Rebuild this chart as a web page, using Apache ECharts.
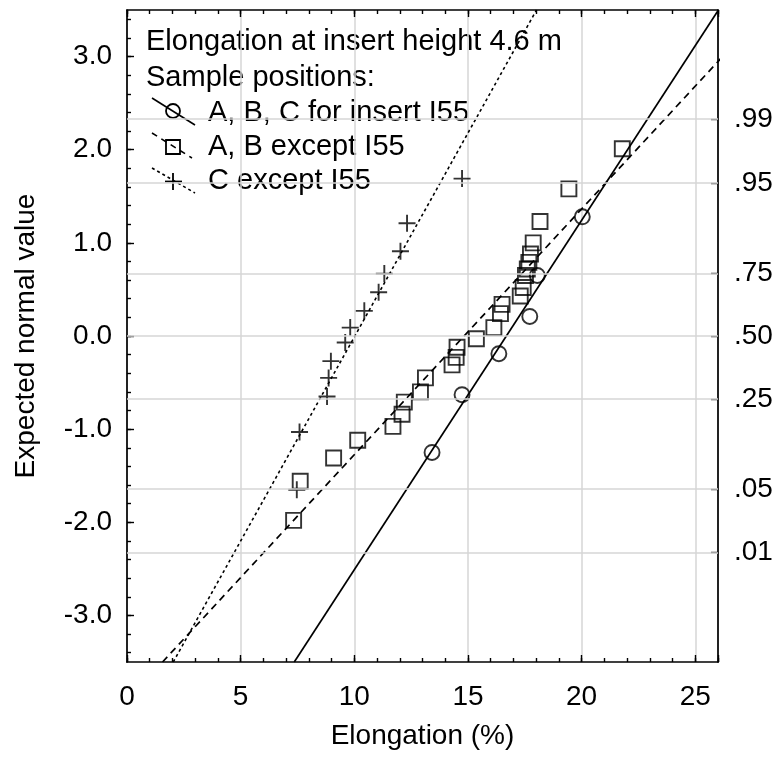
<!DOCTYPE html>
<html><head><meta charset="utf-8">
<script src="https://cdn.jsdelivr.net/npm/echarts@6/dist/echarts.min.js"></script>
<style>html,body{margin:0;padding:0;background:#fff}#c{width:779px;height:762px}</style>
</head><body><div id="c"></div>
<script>
// ---- data ----
const circleX = [13.42, 14.74, 16.36, 17.72, 18.05, 20.03];
const circleY = [-1.25, -0.63, -0.19, 0.21, 0.65, 1.28];

const squareX = [7.33, 7.62, 9.09, 10.15, 11.70, 12.10, 12.20, 12.91, 13.13, 14.30, 14.48, 14.52, 15.37,
                 16.14, 16.43, 16.50, 17.30, 17.43, 17.53, 17.61, 17.68, 17.75, 17.87, 18.17, 19.44, 21.79];
const squareY = [-1.98, -1.56, -1.31, -1.12, -0.97, -0.84, -0.71, -0.60, -0.45, -0.31, -0.23, -0.12, -0.03,
                 0.09, 0.24, 0.34, 0.43, 0.52, 0.65, 0.72, 0.79, 0.88, 1.00, 1.23, 1.58, 2.01];

const crossX = [7.47, 7.59, 8.80, 8.87, 8.97, 9.60, 9.82, 10.44, 11.07, 11.32, 12.03, 12.32, 14.74];
const crossY = [-1.65, -1.03, -0.65, -0.45, -0.27, -0.07, 0.09, 0.27, 0.47, 0.67, 0.91, 1.21, 1.69];

const seriesNames = ['A, B, C for insert I55', 'A, B except I55', 'C except I55'];
const titleLines = ['Elongation at insert height 4.6 m', 'Sample positions:'];

const xTickLabels = [0, 5, 10, 15, 20, 25];
const yTickLabels = [-3, -2, -1, 0, 1, 2, 3];
const probTicks = [0.01, 0.05, 0.25, 0.50, 0.75, 0.95, 0.99];
const probLabels = ['.01', '.05', '.25', '.50', '.75', '.95', '.99'];

const X_MIN = 0, X_MAX = 26, Y_MIN = -3.5, Y_MAX = 3.5;

// ---- helpers ----
function invNorm(p){
  const a=[-3.969683028665376e+01,2.209460984245205e+02,-2.759285104469687e+02,1.383577518672690e+02,-3.066479806614716e+01,2.506628277459239e+00];
  const b=[-5.447609879822406e+01,1.615858368580409e+02,-1.556989798598866e+02,6.680131188771972e+01,-1.328068155288572e+01];
  const c=[-7.784894002430293e-03,-3.223964580411365e-01,-2.400758277161838e+00,-2.549732539343734e+00,4.374664141464968e+00,2.938163982698783e+00];
  const d=[7.784695709041462e-03,3.224671290700398e-01,2.445134137142996e+00,3.754408661907416e+00];
  const pl=0.02425, ph=1-pl; let q,r;
  if(p<pl){q=Math.sqrt(-2*Math.log(p));return (((((c[0]*q+c[1])*q+c[2])*q+c[3])*q+c[4])*q+c[5])/((((d[0]*q+d[1])*q+d[2])*q+d[3])*q+1);}
  if(p<=ph){q=p-0.5;r=q*q;return (((((a[0]*r+a[1])*r+a[2])*r+a[3])*r+a[4])*r+a[5])*q/(((((b[0]*r+b[1])*r+b[2])*r+b[3])*r+b[4])*r+1);}
  q=Math.sqrt(-2*Math.log(1-p));return -(((((c[0]*q+c[1])*q+c[2])*q+c[3])*q+c[4])*q+c[5])/((((d[0]*q+d[1])*q+d[2])*q+d[3])*q+1);
}
function fitLine(xs, ys){
  const n = xs.length;
  const mx = xs.reduce((s,v)=>s+v,0)/n, my = ys.reduce((s,v)=>s+v,0)/n;
  let sxy=0, sxx=0;
  for(let i=0;i<n;i++){ sxy += (xs[i]-mx)*(ys[i]-my); sxx += (xs[i]-mx)*(xs[i]-mx); }
  const s = sxy/sxx;
  return [[mx + (Y_MIN-my)/s, Y_MIN], [mx + (Y_MAX-my)/s, Y_MAX]];
}
const zip = (xs, ys) => xs.map((x,i)=>[x, ys[i]]);
const range = (a, b, step) => { const r=[]; for(let v=a; v<=b+1e-9; v+=step) r.push(Math.round(v*10)/10); return r; };

const probZ = probTicks.map(invNorm);
const xMinor = range(X_MIN, X_MAX, 1);
const yMinor = range(-3.4, 3.4, 0.2);

const FONT = '"Liberation Sans", Arial, sans-serif';
const FS = 28;
const LFS = 29;
const BLACK = '#000';
const GRID = '#d6d6d6';

const chart = echarts.init(document.getElementById('c'), null, {renderer:'canvas'});

const baseAxisLine = {show:true, onZero:false, lineStyle:{color:BLACK, width:1.7}};
const noLine = {show:false, onZero:false};

const option = {
  animation:false,
  backgroundColor:'#fff',
  grid:{left:127, right:61, top:10, bottom:100, containLabel:false},
  xAxis:[
    {type:'value', position:'bottom', min:X_MIN, max:X_MAX, interval:5,
     axisLine:baseAxisLine,
     axisTick:{show:true, inside:true, length:7, lineStyle:{color:BLACK, width:1.4}},
     axisLabel:{margin:21, color:BLACK, fontSize:FS, fontFamily:FONT, customValues:xTickLabels},
     splitLine:{show:true, lineStyle:{color:GRID, width:1.5}},
     name:'Elongation (%)', nameLocation:'middle', nameGap:60,
     nameTextStyle:{color:BLACK, fontSize:FS, fontFamily:FONT}},
    {type:'value', position:'bottom', min:X_MIN, max:X_MAX,
     axisLine:noLine,
     axisTick:{show:true, inside:true, length:4, customValues:xMinor, lineStyle:{color:BLACK, width:1.4}},
     axisLabel:{show:false}, splitLine:{show:false}},
    {type:'value', position:'top', min:X_MIN, max:X_MAX, interval:5,
     axisLine:baseAxisLine,
     axisTick:{show:true, inside:true, length:7, lineStyle:{color:BLACK, width:1.4}},
     axisLabel:{show:false}, splitLine:{show:false}},
    {type:'value', position:'top', min:X_MIN, max:X_MAX,
     axisLine:noLine,
     axisTick:{show:true, inside:true, length:4, customValues:xMinor, lineStyle:{color:BLACK, width:1.4}},
     axisLabel:{show:false}, splitLine:{show:false}}
  ],
  yAxis:[
    {type:'value', position:'left', min:Y_MIN, max:Y_MAX,
     axisLine:baseAxisLine,
     axisTick:{show:true, inside:true, length:7, customValues:yTickLabels, lineStyle:{color:BLACK, width:1.4}},
     axisLabel:{margin:15, color:BLACK, fontSize:FS, fontFamily:FONT, customValues:yTickLabels,
                formatter:v=>Number(v).toFixed(1)},
     splitLine:{show:false},
     name:'Expected normal value', nameLocation:'middle', nameGap:87,
     nameTextStyle:{color:BLACK, fontSize:FS, fontFamily:FONT}},
    {type:'value', position:'left', min:Y_MIN, max:Y_MAX,
     axisLine:noLine,
     axisTick:{show:true, inside:true, length:4, customValues:yMinor, lineStyle:{color:BLACK, width:1.4}},
     axisLabel:{show:false}, splitLine:{show:false}},
    {type:'value', position:'right', min:Y_MIN, max:Y_MAX,
     axisLine:baseAxisLine,
     axisTick:{show:true, inside:true, length:7, customValues:probZ, lineStyle:{color:BLACK, width:1.4}},
     axisLabel:{margin:16, color:BLACK, fontSize:FS, fontFamily:FONT, customValues:probZ,
                formatter:v=>{ let bi=0, bd=1e9; probZ.forEach((z,i)=>{const dd=Math.abs(z-v); if(dd<bd){bd=dd;bi=i;}}); return probLabels[bi]; }},
     splitLine:{show:false}}
  ],
  series:[
    {type:'scatter', name:'grid', data:[], z:1, silent:true,
     markLine:{silent:true, symbol:['none','none'], label:{show:false}, animation:false,
       lineStyle:{color:GRID, width:1.5, type:'solid'},
       emphasis:{disabled:true},
       data:probZ.map(z=>({yAxis:z}))}},
    {type:'line', name:seriesNames[0]+' fit', data:fitLine(circleX, circleY), showSymbol:false, clip:true, z:3,
     lineStyle:{color:BLACK, width:1.7, type:'solid'}},
    {type:'line', name:seriesNames[1]+' fit', data:fitLine(squareX, squareY), showSymbol:false, clip:true, z:3,
     lineStyle:{color:BLACK, width:1.7, type:[7,5]}},
    {type:'line', name:seriesNames[2]+' fit', data:fitLine(crossX, crossY), showSymbol:false, clip:true, z:3,
     lineStyle:{color:BLACK, width:1.6, type:[3,3]}},
    {type:'scatter', name:seriesNames[0], data:zip(circleX, circleY), symbol:'circle', symbolSize:15, z:4,
     itemStyle:{color:'rgba(0,0,0,0)', borderColor:BLACK, borderWidth:1.9}},
    {type:'scatter', name:seriesNames[1], data:zip(squareX, squareY), symbol:'rect', symbolSize:15, z:4,
     itemStyle:{color:'rgba(0,0,0,0)', borderColor:BLACK, borderWidth:1.9}},
    {type:'scatter', name:seriesNames[2], data:zip(crossX, crossY), symbol:'path://M8,0L8,16M0,8L16,8', symbolSize:17, z:4,
     itemStyle:{color:'rgba(0,0,0,0)', borderColor:BLACK, borderWidth:1.9}}
  ],
  graphic:[
    {type:'text', x:146, y:42, style:{text:titleLines[0], fill:BLACK, fontSize:LFS, fontFamily:FONT, verticalAlign:'middle'}},
    {type:'text', x:146, y:78, style:{text:titleLines[1], fill:BLACK, fontSize:LFS, fontFamily:FONT, verticalAlign:'middle'}},
    {type:'text', x:208, y:113, style:{text:seriesNames[0], fill:BLACK, fontSize:LFS, fontFamily:FONT, verticalAlign:'middle'}},
    {type:'text', x:208, y:147, style:{text:seriesNames[1], fill:BLACK, fontSize:LFS, fontFamily:FONT, verticalAlign:'middle'}},
    {type:'text', x:208, y:181, style:{text:seriesNames[2], fill:BLACK, fontSize:LFS, fontFamily:FONT, verticalAlign:'middle'}},
    {type:'line', shape:{x1:152, y1:98, x2:195, y2:125}, style:{stroke:BLACK, lineWidth:1.6}},
    {type:'circle', shape:{cx:173, cy:111, r:7}, style:{fill:'rgba(0,0,0,0)', stroke:BLACK, lineWidth:1.8}},
    {type:'line', shape:{x1:152, y1:133, x2:192, y2:158}, style:{stroke:BLACK, lineWidth:1.6, lineDash:[6,5]}},
    {type:'rect', shape:{x:166, y:140, width:14, height:14}, style:{fill:'rgba(0,0,0,0)', stroke:BLACK, lineWidth:1.8}},
    {type:'line', shape:{x1:152, y1:168, x2:195, y2:193}, style:{stroke:BLACK, lineWidth:1.6, lineDash:[3,3]}},
    {type:'line', shape:{x1:173, y1:173, x2:173, y2:190}, style:{stroke:BLACK, lineWidth:1.8}},
    {type:'line', shape:{x1:165, y1:181.5, x2:182, y2:181.5}, style:{stroke:BLACK, lineWidth:1.8}}
  ]
};
chart.setOption(option);
</script>
</body></html>
